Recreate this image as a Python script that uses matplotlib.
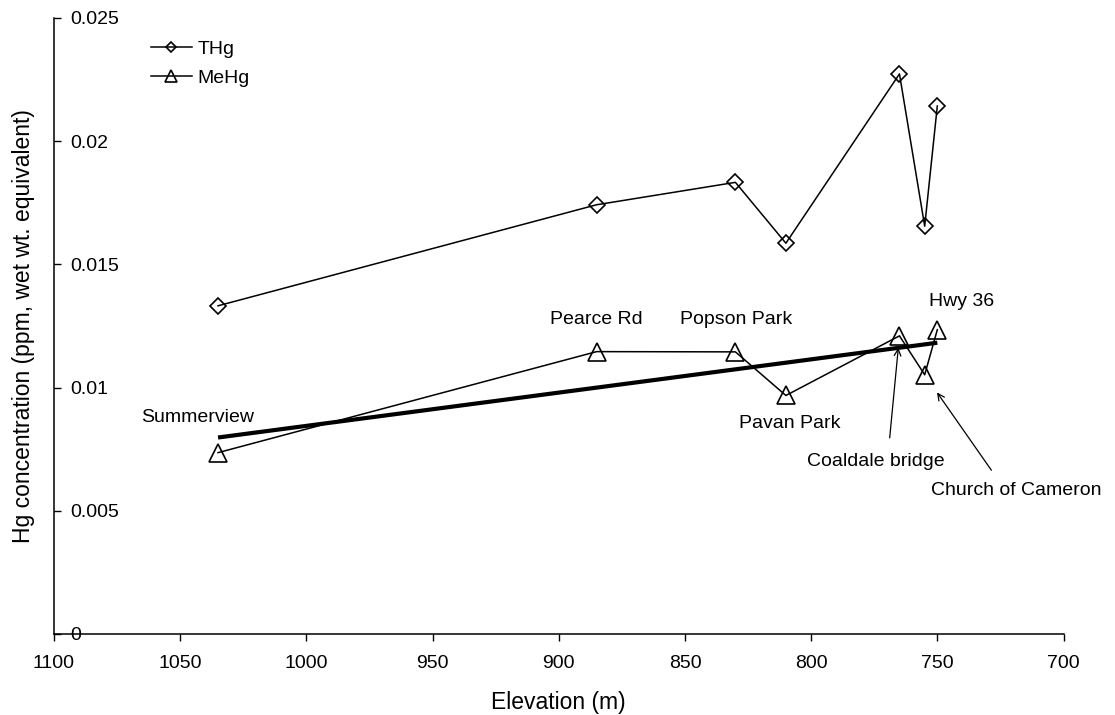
import numpy as np
import matplotlib
matplotlib.use("Agg")
import matplotlib.pyplot as plt

plt.rcParams["font.family"] = ["Liberation Sans", "DejaVu Sans"]

# Sampling sites along the river, by elevation (m)
elevation = [1035, 885, 830, 810, 765, 755, 750]
thg = [0.01332, 0.01742, 0.01833, 0.01586, 0.02273, 0.01655, 0.02143]
mehg = [0.00736, 0.01146, 0.01145, 0.00968, 0.01210, 0.01052, 0.01235]

site_names = ["Summerview", "Pearce Rd", "Popson Park", "Pavan Park",
              "Coaldale bridge", "Church of Cameron", "Hwy 36"]

x_ticks = [1100, 1050, 1000, 950, 900, 850, 800, 750, 700]
y_ticks = [0, 0.005, 0.01, 0.015, 0.02, 0.025]
y_tick_labels = ["0", "0.005", "0.01", "0.015", "0.02", "0.025"]

fig = plt.figure(figsize=(11.15, 7.15), dpi=100)
ax = fig.add_axes([54 / 1115, 81 / 715, (1063.5 - 54) / 1115, (634 - 18) / 715])

ax.plot(elevation, thg, color="black", lw=1.1, marker="D", ms=8.5,
        mfc="none", mec="black", mew=1.2, label="THg")
ax.plot(elevation, mehg, color="black", lw=1.1, marker="^", ms=13,
        mfc="none", mec="black", mew=1.2, label="MeHg")

# Linear trend of MeHg with elevation
slope, intercept = np.polyfit(elevation, mehg, 1)
trend_x = np.array([min(elevation), max(elevation)])
ax.plot(trend_x, slope * trend_x + intercept, color="black", lw=3.0,
        solid_capstyle="butt")

ax.set_xlim(1100, 700)
ax.set_ylim(0, 0.025)
ax.set_xticks(x_ticks)
ax.set_xticklabels([str(v) for v in x_ticks], fontsize=14)
ax.set_yticks(y_ticks)
ax.set_yticklabels(y_tick_labels, fontsize=14)
ax.tick_params(axis="x", direction="out", length=5, width=1, pad=10)
ax.tick_params(axis="y", direction="in", length=5, width=1, pad=-11.5)
for lbl in ax.get_yticklabels():
    lbl.set_ha("left")

for side in ("top", "right"):
    ax.spines[side].set_visible(False)
for side in ("left", "bottom"):
    ax.spines[side].set_linewidth(1.1)

ax.set_xlabel("Elevation (m)", fontsize=16.5, labelpad=14)
ax.set_ylabel("Hg concentration (ppm, wet wt. equivalent)", fontsize=16.5,
              labelpad=14)

# Site labels placed relative to each MeHg point
offsets = {
    "Summerview": (-14.5, 25),
    "Pearce Rd": (0, 23),
    "Popson Park": (0.5, 23),
    "Pavan Park": (2.5, -20),
    "Hwy 36": (17.5, 20),
}
for name, (dx, dy) in offsets.items():
    i = site_names.index(name)
    ax.annotate(name, xy=(elevation[i], mehg[i]), xytext=(dx, dy),
                textcoords="offset points", ha="center", va="center",
                fontsize=14)

arrowed = {
    "Coaldale bridge": ((-17, -90.5), (0.59, 1.0), 9, 8.6),
    "Church of Cameron": ((66, -83), (0.40, 1.0), 7.5, 15.5),
}
for name, (off, rel, sa, sb) in arrowed.items():
    i = site_names.index(name)
    ax.annotate(name, xy=(elevation[i], mehg[i]), xytext=off,
                textcoords="offset points", ha="center", va="center",
                fontsize=14,
                arrowprops=dict(arrowstyle="->", color="black", lw=0.9,
                                relpos=rel, shrinkA=sa, shrinkB=sb,
                                mutation_scale=12))

ax.legend(loc="upper left", frameon=False, fontsize=14, markerscale=0.65,
          handlelength=2.1, handletextpad=0.3, labelspacing=0.62,
          borderpad=0, borderaxespad=0,
          bbox_to_anchor=(151 / 1115, 1 - 40 / 715),
          bbox_transform=fig.transFigure)

fig.savefig("out.png", dpi=100)
